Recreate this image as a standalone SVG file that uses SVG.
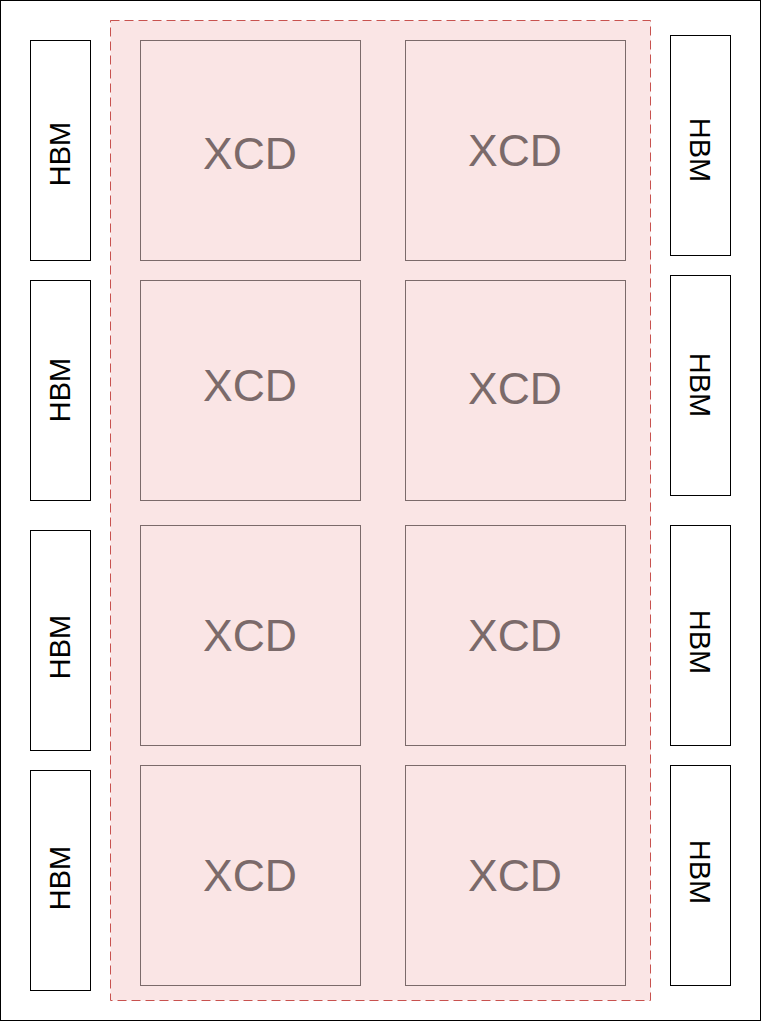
<svg xmlns="http://www.w3.org/2000/svg" width="761" height="1021" viewBox="0 0 761 1021">
<style>
.frame{fill:#fff;stroke:#000;stroke-width:1}
.die{fill:#fae5e5;stroke:#c8524f;stroke-width:1;stroke-dasharray:9 5}
.xcd rect{fill:#fae5e5;stroke:#7b6a6a;stroke-width:1}
.xcd text{font-family:"Liberation Sans",Arial,sans-serif;font-size:44.5px;fill:#7b6a6a;text-anchor:middle;dominant-baseline:central}
.hbm rect{fill:#fff;stroke:#000;stroke-width:1}
.hbm text{font-family:"Liberation Sans",Arial,sans-serif;font-size:29px;fill:#000;text-anchor:middle;dominant-baseline:central}
</style>
<rect class="frame" x="0.5" y="0.5" width="760" height="1020"/>
<rect id="die" class="die" x="110.5" y="20.5" width="540" height="980"/>
<g id="xcd1" class="xcd"><rect x="140.5" y="40.5" width="220" height="220"/><text x="250" y="153">XCD</text></g>
<g id="xcd2" class="xcd"><rect x="405.5" y="40.5" width="220" height="220"/><text x="515" y="150">XCD</text></g>
<g id="xcd3" class="xcd"><rect x="140.5" y="280.5" width="220" height="220"/><text x="250" y="385">XCD</text></g>
<g id="xcd4" class="xcd"><rect x="405.5" y="280.5" width="220" height="220"/><text x="515" y="388">XCD</text></g>
<g id="xcd5" class="xcd"><rect x="140.5" y="525.5" width="220" height="220"/><text x="250" y="635">XCD</text></g>
<g id="xcd6" class="xcd"><rect x="405.5" y="525.5" width="220" height="220"/><text x="515" y="635">XCD</text></g>
<g id="xcd7" class="xcd"><rect x="140.5" y="765.5" width="220" height="220"/><text x="250" y="875">XCD</text></g>
<g id="xcd8" class="xcd"><rect x="405.5" y="765.5" width="220" height="220"/><text x="515" y="875">XCD</text></g>
<g id="hbm1" class="hbm"><rect x="30.5" y="40.5" width="60" height="220"/><text transform="translate(60 154) rotate(-90)">HBM</text></g>
<g id="hbm2" class="hbm"><rect x="30.5" y="280.5" width="60" height="220"/><text transform="translate(60 390) rotate(-90)">HBM</text></g>
<g id="hbm3" class="hbm"><rect x="30.5" y="530.5" width="60" height="220"/><text transform="translate(60 647) rotate(-90)">HBM</text></g>
<g id="hbm4" class="hbm"><rect x="30.5" y="770.5" width="60" height="220"/><text transform="translate(60 878) rotate(-90)">HBM</text></g>
<g id="hbm5" class="hbm"><rect x="670.5" y="35.5" width="60" height="220"/><text transform="translate(700 150) rotate(90)">HBM</text></g>
<g id="hbm6" class="hbm"><rect x="670.5" y="275.5" width="60" height="220"/><text transform="translate(700 385) rotate(90)">HBM</text></g>
<g id="hbm7" class="hbm"><rect x="670.5" y="525.5" width="60" height="220"/><text transform="translate(700 642) rotate(90)">HBM</text></g>
<g id="hbm8" class="hbm"><rect x="670.5" y="765.5" width="60" height="220"/><text transform="translate(700 872) rotate(90)">HBM</text></g>
<g id="connectors"/>
</svg>
